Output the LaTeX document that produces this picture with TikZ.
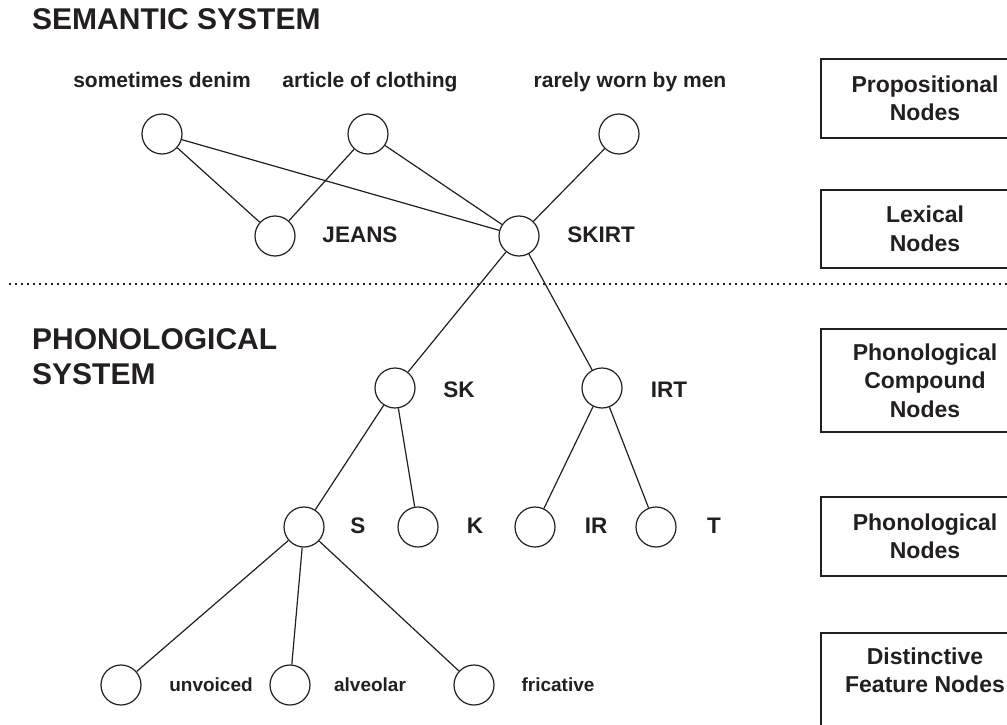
\documentclass[tikz,border=0pt]{standalone}
\usepackage{fontspec}
\setmainfont{Liberation Sans}
\usepackage{tikz}
\definecolor{tinta}{RGB}{35, 31, 32}
\tikzset{
  nodo/.style={circle, draw=tinta, line width=1.2pt, minimum size=40pt, inner sep=0pt},
  enlace/.style={draw=tinta, line width=1.2pt},
  etiqueta/.style={text=tinta, font=\bfseries\fontsize{21}{25}\selectfont, anchor=base, inner sep=0pt},
  rasgo/.style={etiqueta, font=\bfseries\fontsize{19}{23}\selectfont},
  palabra/.style={etiqueta, font=\bfseries\fontsize{22.5}{27}\selectfont},
  caja/.style={draw=tinta, line width=1.3pt, minimum width=208pt, align=center, text=tinta,
    font=\bfseries\fontsize{23}{28.5}\selectfont},
  titulo/.style={text=tinta, font=\bfseries\fontsize{30}{35}\selectfont, inner sep=0pt}
}
\begin{document}
\begin{tikzpicture}[x=1pt, y=-1pt]
\useasboundingbox (0,0) rectangle (1007,725);
% Sistemas
\node[titulo, anchor=base west] (sem) at (32,30) {SEMANTIC SYSTEM};
\node[titulo, anchor=north west, align=left] (fon) at (32,328) {PHONOLOGICAL\\SYSTEM};
\draw[tinta, line width=1.5pt, dash pattern=on 1.5pt off 4.5pt] (9,284) -- (1007,284);
% Nodos
\foreach \n/\x/\y in {dn/162/134, art/368/134, rare/619/134, jeans/275/236, skirt/519/236,
  sk/395/388, irt/602/388, s/304/527, k/418/527, ir/535/527, t/656/527,
  unv/121/685, alv/290/685, fric/474/685} {
  \node[nodo] (\n) at (\x,\y) {};
}
\foreach \a/\b in {dn/jeans, dn/skirt, art/jeans, art/skirt, rare/skirt, skirt/sk, skirt/irt,
  sk/s, sk/k, irt/ir, irt/t, s/unv, s/alv, s/fric} {
  \draw[enlace] (\a) -- (\b);
}
% Etiquetas
\foreach \n/\t/\x in {ldn/sometimes denim/162, lart/article of clothing/370, lrare/rarely worn by men/630} {
  \node[etiqueta] (\n) at (\x,88) {\t};
}
\foreach \n/\t/\x/\y in {ljeans/JEANS/360/242, lskirt/SKIRT/601/242, lsk/SK/459/397, lirt/IRT/669/397,
  ls/S/358/533, lk/K/475/533, lir/IR/596/533, lt/T/714/533} {
  \node[palabra] (\n) at (\x,\y) {\t};
}
\foreach \n/\t/\x in {lunv/unvoiced/211, lalv/alveolar/370, lfric/fricative/558} {
  \node[rasgo] (\n) at (\x,691) {\t};
}
% Niveles
\node[caja, minimum height=79pt] (bprop) at (925,98.5) {Propositional\\Nodes};
\node[caja, minimum height=78pt] (blex) at (925,229) {Lexical\\Nodes};
\node[caja, minimum height=103pt] (bcomp) at (925,380.5) {Phonological\\Compound\\Nodes};
\node[caja, minimum height=79pt] (bfon) at (925,536.5) {Phonological\\Nodes};
\node[caja, minimum height=103pt] (bdist) at (925,684.5) {Distinctive\\Feature Nodes\\\mbox{}};
\end{tikzpicture}
\end{document}
